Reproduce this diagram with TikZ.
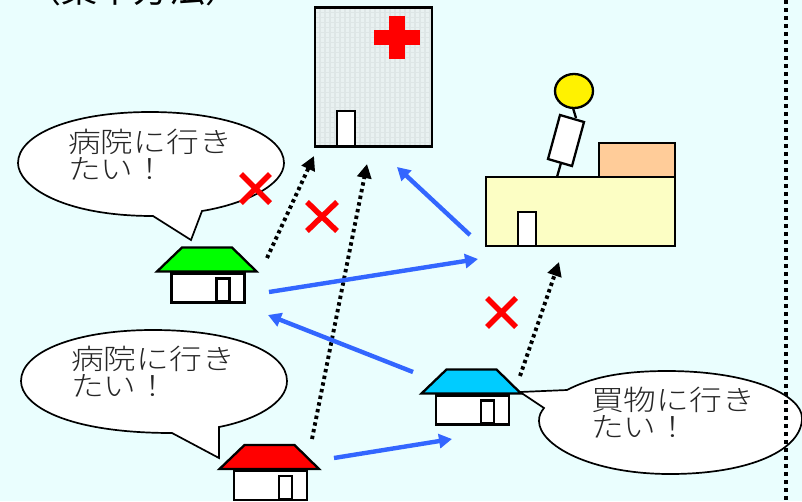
\documentclass[tikz,border=0pt]{standalone}
\usepackage{fontspec}
\newfontfamily\jp[FakeStretch=1.17]{Noto Sans CJK JP Light}
\newfontfamily\jpt{Noto Sans CJK JP}
\usetikzlibrary{arrows.meta,shapes.geometric}
\definecolor{bgc}{RGB}{234,254,254}
\definecolor{bluearrow}{RGB}{51,102,255}
\definecolor{hospc}{RGB}{233,241,241}
\definecolor{hospg}{RGB}{222,230,230}
\definecolor{shopc}{RGB}{252,254,196}
\definecolor{peach}{RGB}{255,204,153}
\definecolor{roofcyan}{RGB}{0,204,255}
\tikzset{
 x=1pt,y=-1pt,
 outl/.style={draw=black,line width=2.3pt,line join=miter,outer sep=0pt},
 wall/.style={outl,fill=white},
 blk/.style={draw=bluearrow,line width=4.4pt,-{Triangle[length=13pt,width=14pt]}},
 dot/.style={draw=black,line width=3.9pt,dash pattern=on 3.4pt off 3.4pt,-{Triangle[length=14pt,width=14pt]}},
 cross/.style={draw=red,line width=5.5pt},
 saytext/.style={font=\jp\fontsize{28pt}{27pt}\selectfont,anchor=north west,inner sep=0pt,align=left,text=black!85},
 bubble/.style={draw=black,line width=1.7pt,fill=white},
}
\newcommand{\house}[2]{%
 \draw[outl,fill=#2] (#1)++(-49.5,0) -- ++(25,-24) -- ++(50,0) -- ++(24.5,24) -- cycle;
 \draw[wall] (#1)++(-35,2) rectangle ++(73,29);
 \draw[wall] (#1)++(10,7) rectangle ++(13,23);
}
\begin{document}
\begin{tikzpicture}
\useasboundingbox (0,0) rectangle (802,501);
\fill[bgc] (0,0) rectangle (802,501);
\node[anchor=base west,inner sep=0pt,font=\jpt\fontsize{36pt}{36pt}\selectfont] (title) at (25,2) {（集中方法）};
% hospital
\fill[hospc] (315,7.5) rectangle (432,146.5);
\draw[hospg,line width=1.4pt,step=5pt,xshift=315pt,yshift=-7.5pt] (0,0) grid (117,139);
\node[outl,minimum width=117pt,minimum height=139pt,inner sep=0pt,anchor=north west] (hosp) at (315,7.5) {};
\fill[red] (389,16) rectangle (405,59);
\fill[red] (374,30) rectangle (420,45);
\draw[wall] (337,111) rectangle (355,146);
% shop
\node[outl,fill=peach,minimum width=76pt,minimum height=35pt,inner sep=0pt,anchor=north west] (annex) at (599,143) {};
\node[outl,fill=shopc,minimum width=189pt,minimum height=69pt,inner sep=0pt,anchor=north west] (shop) at (486,177) {};
\draw[wall] (518,212) rectangle (536,246);
% person
\draw[outl] (573,108) -- (576,118);
\draw[outl] (557,177) -- (561,163);
\node[outl,fill=yellow,ellipse,minimum width=38pt,minimum height=34pt,inner sep=0pt] (head) at (574,91) {};
\draw[wall] (560,115) -- (584,122) -- (572,166) -- (548,159) -- cycle;
% bubbles
\draw[bubble] (153,216) .. controls (60,216) and (18,185) .. (18,163) .. controls (18,135) and (70,112) .. (150,112) .. controls (230,112) and (284,135) .. (284,163) .. controls (284,185) and (245,204) .. (202,211) -- (191,240) -- cycle;
\node[saytext] (t1) at (68,129) {病院に行き\\たい！};
\draw[bubble] (172,433) .. controls (65,433) and (21,405) .. (21,381) .. controls (21,352) and (75,330) .. (153,330) .. controls (235,330) and (287,352) .. (287,381) .. controls (287,403) and (255,420) .. (219,427) -- (219,458) -- cycle;
\node[saytext] (t2) at (71,346) {病院に行き\\たい！};
\draw[bubble] (520,392) -- (567,390) .. controls (590,378) and (620,371) .. (667,371) .. controls (750,371) and (802,395) .. (802,418) .. controls (802,450) and (750,474) .. (670,474) .. controls (590,474) and (539,445) .. (539,421) .. controls (539,415) and (541,412) .. (544,408) -- cycle;
\node[saytext] (t3) at (591,387) {買物に行き\\たい！};
% houses
\coordinate (hg) at (206.5,271.5);
\coordinate (hr) at (269,469);
\coordinate (hb) at (471,393.5);
\house{hg}{green}
\house{hr}{red}
\house{hb}{roofcyan}
% arrows
\coordinate (a1s) at (267,258); \coordinate (a1e) at (314,156);
\coordinate (a2s) at (312,439); \coordinate (a2e) at (367,164);
\coordinate (a3s) at (520,376); \coordinate (a3e) at (559,262);
\draw[dot] (a1s) -- (a1e);
\draw[dot] (a2s) -- (a2e);
\draw[dot] (a3s) -- (a3e);
\coordinate (b1s) at (470,235); \coordinate (b1e) at (397,167);
\coordinate (b2s) at (269,292); \coordinate (b2e) at (478,259);
\coordinate (b3s) at (413,372); \coordinate (b3e) at (268,315);
\coordinate (b4s) at (334,458); \coordinate (b4e) at (452,439);
\draw[blk] (b1s) -- (b1e);
\draw[blk] (b2s) -- (b2e);
\draw[blk] (b3s) -- (b3e);
\draw[blk] (b4s) -- (b4e);
% crosses
\draw[cross] (241,174) -- (270,203) (270,174) -- (241,203);
\draw[cross] (307,202) -- (337,231) (337,202) -- (307,231);
\draw[cross] (487,298) -- (516,327) (516,298) -- (487,327);
% divider
\draw[draw=black,line width=4pt,dash pattern=on 4pt off 4pt] (786,0) -- (786,501);
\end{tikzpicture}
\end{document}
